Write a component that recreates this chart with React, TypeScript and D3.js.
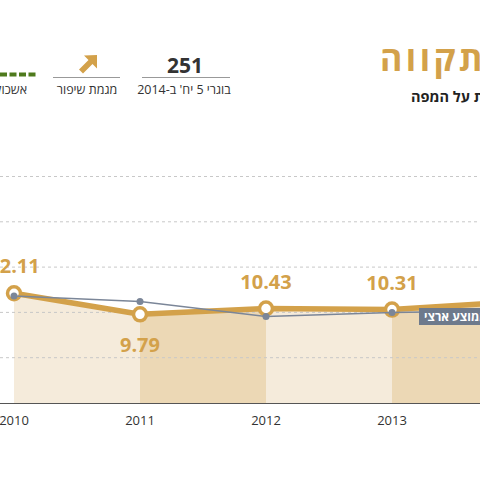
import React from "react";
import * as d3 from "d3";

const years = [2010, 2011, 2012, 2013, 2014];
const cityValues = [12.11, 9.79, 10.43, 10.31, 11.2];
const nationalValues = [11.8, 11.2, 9.55, 10.0, 10.2];
const yTicks = [5, 10, 15, 20, 25];

const titleText = "פתח תקווה";
const subtitleText = "לחצו על הנקודות על המפה";
const statValue = "251";
const statLabel = "בוגרי 5 יח' ב-2014";
const trendLabel = "מגמת שיפור";
const clusterLabel = "אשכול 8";
const avgLabel = "ממוצע ארצי";

const GOLD = "#d3a14a";
const GRAY = "#7b8698";
const FONT = "'Open Sans', 'Noto Sans', 'DejaVu Sans', sans-serif";

export default function App() {
  const W = 480;
  const H = 480;
  const x = d3.scaleLinear().domain([2010, 2014]).range([14, 518]);
  const y = d3.scaleLinear().domain([0, 25]).range([403, 176.5]);

  const pts = years.map((yr, i) => ({ yr, v: cityValues[i], a: nationalValues[i] }));
  const area = d3
    .area<{ yr: number; v: number }>()
    .x((d) => x(d.yr))
    .y0(y(0))
    .y1((d) => y(d.v));
  const cityLine = d3
    .line<{ yr: number; v: number }>()
    .x((d) => x(d.yr))
    .y((d) => y(d.v));
  const natLine = d3
    .line<{ yr: number; a: number }>()
    .x((d) => x(d.yr))
    .y((d) => y(d.a));

  const segments = pts.slice(0, -1).map((p, i) => [p, pts[i + 1]]);

  return (
    <svg
      width={W}
      height={H}
      style={{ position: "absolute", left: 0, top: 0, fontFamily: FONT }}
    >
      <rect x={0} y={0} width={W} height={H} fill="#fff" />
      {/* Header */}
      <text
        x={380}
        y={71}
        direction="rtl"
        textAnchor="end"
        fontSize={34}
        letterSpacing={3.5}
        fontWeight={700}
        fill={GOLD}
      >
        {titleText}
      </text>
      <text
        x={411}
        y={102}
        direction="rtl"
        textAnchor="end"
        fontSize={14.5}
        fontWeight={700}
        fill="#222"
      >
        {subtitleText}
      </text>

      <text x={185} y={73} textAnchor="middle" fontSize={21} fontWeight={700} fill="#333">
        {statValue}
      </text>
      <line x1={142} x2={230} y1={77.5} y2={77.5} stroke="#999" strokeWidth={1} />
      <text x={184} y={94} direction="rtl" textAnchor="middle" fontSize={12.5} fill="#333">
        {statLabel}
      </text>

      <path
        d="M97,55 L84,55.5 L88.5,60 L79,69.5 L83,73.5 L92.5,64 L97,68.5 Z"
        fill={GOLD}
      />
      <line x1={53} x2={120} y1={77.5} y2={77.5} stroke="#999" strokeWidth={1} />
      <text x={87} y={94} direction="rtl" textAnchor="middle" fontSize={12.5} fill="#333">
        {trendLabel}
      </text>

      <line
        x1={0}
        x2={36}
        y1={74.5}
        y2={74.5}
        stroke="#4e7a1c"
        strokeWidth={4}
        strokeDasharray="7,2.5"
      />
      <text x={27} y={94} direction="rtl" textAnchor="start" fontSize={12.5} fill="#333">
        {clusterLabel}
      </text>

      {/* Area bands */}
      {segments.map((seg, i) => (
        <path
          key={"band" + i}
          d={area(seg) || ""}
          fill={i % 2 === 0 ? "#f5ebdb" : "#ecd8b5"}
        />
      ))}

      {/* Grid */}
      {yTicks.map((t) => (
        <line
          key={"g" + t}
          x1={0}
          x2={W}
          y1={y(t)}
          y2={y(t)}
          stroke="#c8c8c8"
          strokeWidth={1}
          strokeDasharray="3,3"
        />
      ))}

      {/* Axis */}
      <line x1={0} x2={W} y1={y(0) + 0.5} y2={y(0) + 0.5} stroke="#555" strokeWidth={1} />
      {years.map((yr) => (
        <text
          key={"t" + yr}
          x={x(yr)}
          y={425}
          textAnchor="middle"
          fontSize={13}
          fill="#333"
        >
          {yr}
        </text>
      ))}

      {/* City line */}
      <path
        d={cityLine(pts) || ""}
        fill="none"
        stroke={GOLD}
        strokeWidth={5.5}
        strokeLinejoin="round"
      />
      {pts.map((p) => (
        <circle
          key={"c" + p.yr}
          cx={x(p.yr)}
          cy={y(p.v)}
          r={6.5}
          fill="#fff"
          stroke={GOLD}
          strokeWidth={3.5}
        />
      ))}

      {/* National line */}
      <path d={natLine(pts) || ""} fill="none" stroke={GRAY} strokeWidth={1.5} />
      {pts.map((p) => (
        <circle key={"n" + p.yr} cx={x(p.yr)} cy={y(p.a)} r={3.5} fill={GRAY} />
      ))}

      {/* Value labels */}
      {pts.map((p) => {
        const above = p.v >= p.a;
        return (
          <text
            key={"l" + p.yr}
            x={x(p.yr)}
            y={above ? y(p.v) - 20 : y(p.v) + 38}
            textAnchor="middle"
            fontSize={20}
            fontWeight={700}
            fill={GOLD}
          >
            {p.v.toFixed(2)}
          </text>
        );
      })}

      {/* National average tag */}
      <rect x={419} y={308} width={80} height={17} fill="#6e7a8c" />
      <text
        x={424}
        y={321}
        direction="rtl"
        textAnchor="end"
        fontSize={12}
        fontWeight={700}
        fill="#fff"
      >
        {avgLabel}
      </text>
    </svg>
  );
}
